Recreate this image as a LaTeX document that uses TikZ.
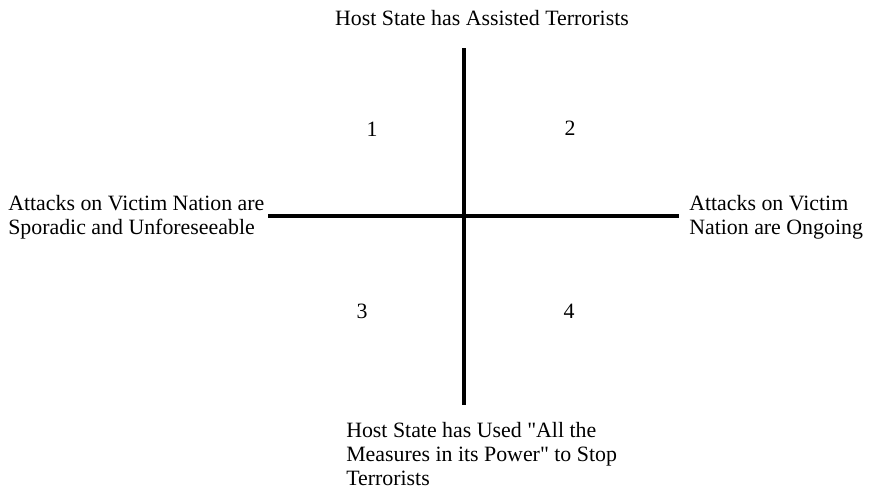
\documentclass[tikz,border=0pt]{standalone}
\usepackage{fontspec}
\setmainfont{Liberation Serif}[Ligatures=TeXOff]
\usetikzlibrary{calc}

\begin{document}
\begin{tikzpicture}[
     x=0.75pt,y=-0.75pt,
     axis/.style={line width=3.2pt},
     lbl/.style={font=\fontsize{16.4}{18}\selectfont,align=left,inner sep=0pt},
     quad/.style={font=\fontsize{16.4}{18}\selectfont,inner sep=0pt}
   ]
   \path[use as bounding box] (0,0) rectangle (869,489);
   % Axes.
   \coordinate (top) at (464,48);
   \coordinate (bottom) at (464,405);
   \coordinate (left) at (268,216);
   \coordinate (right) at (679,216);
   \draw[axis] (top) -- (bottom);
   \draw[axis] (left) -- (right);
   % Axis labels.
   \node[lbl,anchor=center] (hostassist) at (482,18) {Host State has Assisted Terrorists};
   \node[lbl,anchor=west] (sporadic) at (8,217) {Attacks on Victim Nation are\\Sporadic and Unforeseeable};
   \node[lbl,anchor=west] (ongoing) at (689,217) {Attacks on Victim\\Nation are Ongoing};
   \node[lbl,anchor=west] (hostused) at (346,454) {Host State has Used "All the\\Measures in its Power" to Stop\\Terrorists};
   % Quadrants.
   \node[quad] (q1) at (372,129) {1};
   \node[quad] (q2) at (570,128) {2};
   \node[quad] (q3) at (362,311) {3};
   \node[quad] (q4) at (569,311) {4};
 \end{tikzpicture}
\end{document}
